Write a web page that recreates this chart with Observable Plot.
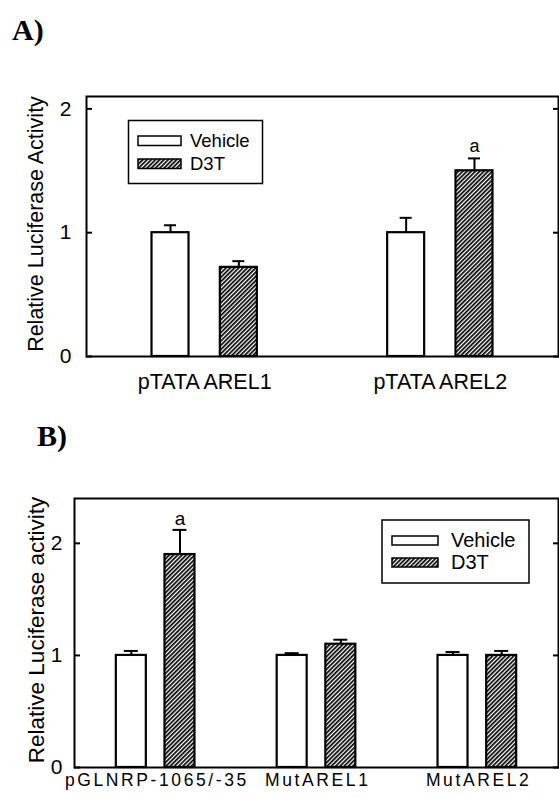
<!DOCTYPE html>
<html><head><meta charset="utf-8">
<script src="https://cdn.jsdelivr.net/npm/d3@7"></script>
<script src="https://cdn.jsdelivr.net/npm/@observablehq/plot@0.6"></script>
<style>
html,body{margin:0;padding:0;background:#fff;}
#page{position:relative;width:559px;height:799px;overflow:hidden;font-family:"Liberation Sans",Arial,sans-serif;}
#page > svg, #page > div{position:absolute;left:0;}
</style></head><body>
<svg width="0" height="0" style="position:absolute">
<defs>
<pattern id="hatch" patternUnits="userSpaceOnUse" width="3" height="3" patternTransform="rotate(45)">
<rect width="3" height="3" fill="white"/>
<rect x="0" y="0" width="1.7" height="3" fill="black"/>
</pattern>
</defs></svg>
<div id="page"></div>
<script>
// ---- data ----
const series = ["Vehicle", "D3T"];

const groupsA = ["pTATA AREL1", "pTATA AREL2"];
const vehicleA = [1.00, 1.00];
const vehicleErrA = [0.06, 0.12];
const d3tA = [0.72, 1.50];
const d3tErrA = [0.05, 0.10];
const sigA = ["", "a"];
const ticksA = [0, 1, 2];
const yLabelA = "Relative Luciferase Activity";
const panelLabelA = "A)";

const groupsB = ["pGLNRP-1065/-35", "MutAREL1", "MutAREL2"];
const vehicleB = [1.00, 1.00, 1.00];
const vehicleErrB = [0.04, 0.02, 0.03];
const d3tB = [1.90, 1.10, 1.00];
const d3tErrB = [0.22, 0.04, 0.04];
const sigB = ["a", "", ""];
const ticksB = [0, 1, 2];
const yLabelB = "Relative Luciferase activity";
const panelLabelB = "B)";

function rows(groups, veh, vehErr, trt, trtErr, sig) {
  return groups.flatMap((g, i) => [
    {group: g, series: series[0], value: veh[i], err: vehErr[i], sig: ""},
    {group: g, series: series[1], value: trt[i], err: trtErr[i], sig: sig[i]}
  ]);
}

const page = document.getElementById("page");
const FONT = "Liberation Sans, Arial, Helvetica, sans-serif";

function panel(o) {
  const W = 559 - o.marginLeft - 1;
  const n = o.groups.length;
  const step = W / (n - o.paddingInner + 2 * o.paddingOuter);
  const bw = step * (1 - o.paddingInner);
  const inset = bw - o.barW;
  const off = (bw - o.barW) / 2;
  const veh = o.data.filter(d => d.series === series[0]);
  const trt = o.data.filter(d => d.series === series[1]);
  const top = d => d.value + d.err;
  const chart = Plot.plot({
    width: 559, height: o.height,
    marginTop: o.marginTop, marginBottom: o.marginBottom, marginLeft: o.marginLeft, marginRight: 1,
    style: {fontFamily: FONT, color: "black", background: "transparent", overflow: "visible"},
    x: {domain: o.groups, type: "band", paddingInner: o.paddingInner, paddingOuter: o.paddingOuter, align: 0.5, round: false, label: null},
    y: {domain: [0, o.yMax], label: null},
    marks: [
      Plot.barY(veh, {x: "group", y: "value", fill: "white", stroke: "black", strokeWidth: 2.2, insetRight: inset}),
      Plot.barY(trt, {x: "group", y: "value", fill: "url(#hatch)", stroke: "black", strokeWidth: 2.2, insetLeft: inset}),
      Plot.ruleX(veh, {x: "group", y1: "value", y2: top, dx: -off, stroke: "black", strokeWidth: 2}),
      Plot.ruleX(trt, {x: "group", y1: "value", y2: top, dx: off, stroke: "black", strokeWidth: 2}),
      Plot.tickY(veh, {x: "group", y: top, stroke: "black", strokeWidth: 2,
        insetLeft: o.barW / 2 - o.capW / 2, insetRight: bw - o.barW / 2 - o.capW / 2}),
      Plot.tickY(trt, {x: "group", y: top, stroke: "black", strokeWidth: 2,
        insetLeft: bw - o.barW / 2 - o.capW / 2, insetRight: o.barW / 2 - o.capW / 2}),
      Plot.text(trt.filter(d => d.sig), {x: "group", y: top, text: "sig", dx: off, dy: o.sigDy,
        fontSize: o.sigSize, lineAnchor: "bottom", fill: "black"}),
      Plot.axisY({ticks: o.ticks, anchor: "left", tickSize: 0, tickPadding: o.yPad, fontSize: o.yTickSize, tickFormat: d => String(d)}),
      Plot.axisY({ticks: o.ticks, anchor: "left", tickSize: -6, tickFormat: () => "", strokeWidth: 2}),
      Plot.axisY({ticks: o.ticks, anchor: "right", tickSize: -6, tickFormat: () => "", strokeWidth: 2}),
      Plot.axisX({tickSize: 0, tickPadding: o.xPad, fontSize: o.xTickSize}),
      Plot.frame({stroke: "black", strokeWidth: 2})
    ]
  });
  chart.style.top = o.top + "px";
  if (o.letterSpacing) {
    chart.querySelectorAll('[aria-label="x-axis tick label"] text').forEach(t => {
      t.setAttribute("letter-spacing", o.letterSpacing);
      t.setAttribute("dx", o.letterSpacing / 2);
    });
  }
  page.appendChild(chart);
}

panel({
  data: rows(groupsA, vehicleA, vehicleErrA, d3tA, d3tErrA, sigA),
  groups: groupsA, ticks: ticksA, yMax: 2.1,
  top: 60, height: 350, marginTop: 36, marginBottom: 54, marginLeft: 86,
  paddingInner: 0.553, paddingOuter: 0.278, barW: 37, capW: 12,
  sigDy: -6, sigSize: 18, yPad: 15, yTickSize: 21, xPad: 17, xTickSize: 21.5
});

panel({
  data: rows(groupsB, vehicleB, vehicleErrB, d3tB, d3tErrB, sigB),
  groups: groupsB, ticks: ticksB, yMax: 2.4,
  top: 460, height: 339, marginTop: 38, marginBottom: 32, marginLeft: 74,
  paddingInner: 0.511, paddingOuter: 0.26, barW: 30, capW: 14,
  sigDy: -5, sigSize: 19, yPad: 12, yTickSize: 21, xPad: 6, xTickSize: 17.5, letterSpacing: 2.6
});

// ---- overlay: panel letters, y titles, legends ----
const ov = d3.select(page).append("svg")
  .attr("width", 559).attr("height", 799)
  .style("top", "0px").style("font-family", FONT);

ov.append("text").attr("x", 12).attr("y", 40).text(panelLabelA)
  .attr("font-family", "Liberation Serif, Times New Roman, serif").attr("font-weight", "bold").attr("font-size", 30);
ov.append("text").attr("x", 37).attr("y", 446).text(panelLabelB)
  .attr("font-family", "Liberation Serif, Times New Roman, serif").attr("font-weight", "bold").attr("font-size", 30);

ov.append("text").attr("transform", "translate(43,224) rotate(-90)")
  .attr("text-anchor", "middle").attr("font-size", 21.5).text(yLabelA);
ov.append("text").attr("transform", "translate(44,630) rotate(-90)")
  .attr("text-anchor", "middle").attr("font-size", 22.5).text(yLabelB);

function legend(x, y, w, h, swX, swW, swH, swY, textX, textY, fontSize) {
  const g = ov.append("g");
  g.append("rect").attr("x", x).attr("y", y).attr("width", w).attr("height", h)
    .attr("fill", "white").attr("stroke", "black").attr("stroke-width", 1.5);
  series.forEach((s, i) => {
    g.append("rect").attr("x", swX).attr("y", swY[i]).attr("width", swW).attr("height", swH)
      .attr("fill", i === 0 ? "white" : "url(#hatch)").attr("stroke", "black").attr("stroke-width", 1.5);
    g.append("text").attr("x", textX).attr("y", textY[i]).attr("font-size", fontSize).text(s);
  });
}
legend(128.5, 120.5, 134, 63, 138, 43, 9.5, [136, 159], 190, [147, 169.5], 18.5);
legend(382, 520, 147, 63, 392, 46, 9, [536, 558], 451, [546.5, 568.5], 20);
</script>
</body></html>
